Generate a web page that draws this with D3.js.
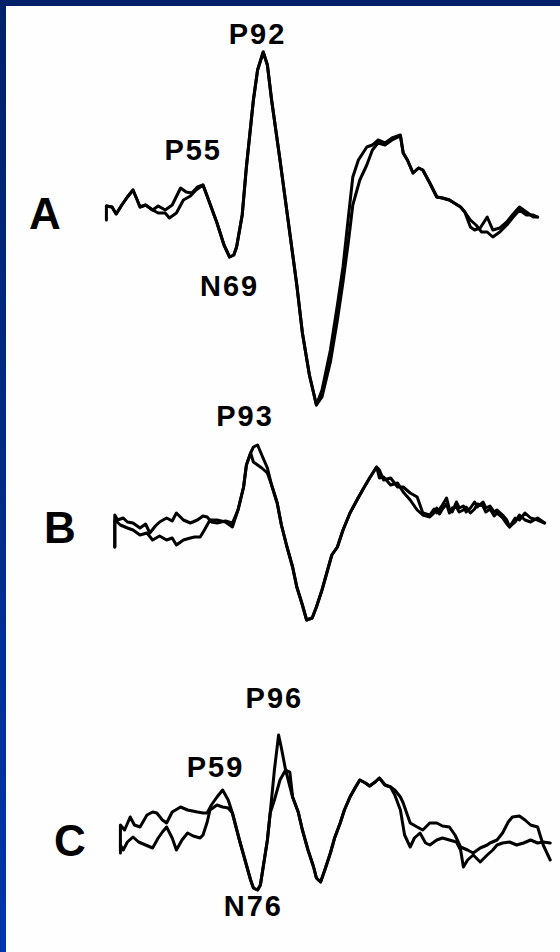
<!doctype html>
<html>
<head>
<meta charset="utf-8">
<title>Evoked potentials A, B, C</title>
<script src="https://d3js.org/d3.v7.min.js"></script>
<style>
  html, body { margin: 0; padding: 0; background: #fff; }
  svg { display: block; }
  text { font-family: "Liberation Sans", Arial, sans-serif; font-weight: bold; fill: #000; }
</style>
</head>
<body>
<svg id="chart" width="560" height="952"></svg>
<script>
// [ms, uV] pairs, two overlaid recordings per panel
const panels = ["A", "B", "C"];

const aOnset = [[-19,0],[-19,-0.8],[-19,0.6],[-15,0.5],[-12,-0.2],[-8,0.7],[-4,1.5],[0,2.2],[3,1.2],[5,0.5],[9,0.7],[14,0.2]];
const aEarly1 = [[18,0.6],[23,0.2],[28,0.7],[34,2.4],[38,2.0],[42,1.9],[46,2.5],[50,2.7]];
const aEarly2 = [[18,-0.1],[23,-0.1],[26,-0.6],[31,-0.1],[36,1.2],[41,1.6],[45,2.2],[50,2.7]];
const aMain = [[54,1.2],[60,-1.1],[65,-3.3],[69,-4.5],[72,-4.3],[74,-3.5],[78,-0.3],[81,4.5],[86,11.2],[89,14.2],[93,16.0],[96,14.7],[99,11.2],[105,5.2],[112,-2.1],[117,-7.3],[121,-12.1],[126,-16.3],[131,-19.3]];
const aRecov1 = [[135,-17.8],[141,-13.8],[146,-9.3],[150,-5.5],[154,-0.3],[157,3.5],[161,5.2],[167,6.5],[171,6.7],[175,7.2],[180,6.9],[185,7.4],[191,7.7],[193,5.9]];
const aRecov2 = [[135,-18.5],[141,-15.0],[146,-10.8],[150,-7.0],[154,-2.8],[157,0.7],[162,3.2],[167,4.7],[171,6.2],[175,6.9],[180,6.7],[185,7.2],[191,7.6],[193,5.9]];
const aLate = [[196,5.2],[200,3.9],[204,4.4],[207,4.2],[212,2.9],[217,1.5],[221,1.4],[226,1.2],[234,0.5],[237,0]];
const aTail1 = [[241,-1.5],[244,-1.8],[248,-1.6],[253,-0.5],[257,-1.8],[262,-1.6],[267,-1.0],[271,-0.3],[276,0.5],[281,0],[286,-0.5],[289,-0.5]];
const aTail2 = [[241,-0.8],[245,-1.3],[249,-2.0],[253,-2.0],[257,-2.5],[262,-2.0],[267,-1.3],[271,-0.6],[276,0.2],[281,-0.3],[286,-0.3],[289,-0.5]];

const bOnset1 = [[-13,-2.5],[-13,0.7],[-11,0.2],[-7,0.4],[-4,0],[0,-0.1],[5,-0.6],[9,-0.2],[12,-1.1],[16,-0.4],[19,0],[24,0.4],[28,0.1],[31,0.9],[36,0.2],[41,-0.1],[46,0.2],[50,0.6],[53,0.5],[56,0],[60,-0.1],[66,0.1],[71,-0.1]];
const bOnset2 = [[-13,-2.5],[-13,0.2],[-9,-0.3],[-4,-0.6],[0,-0.8],[5,-1.3],[10,-1.1],[14,-1.8],[19,-1.4],[24,-1.8],[28,-1.6],[31,-2.3],[36,-1.8],[41,-1.6],[44,-1.5],[48,-1.5],[51,-0.8],[55,0.2],[60,0.2],[66,0],[71,-0.5]];
const bRise = [[75,1.2],[79,3.5],[81,5.7],[84,6.9]];
const bPeak1 = [[86,7.5],[89,7.7],[92,6.7],[96,5.4]];
const bPeak2 = [[86,6.0],[89,5.7],[92,5.4],[96,4.9]];
const bMain = [[99,3.7],[103,1.9],[106,-0.3],[110,-2.5],[114,-4.5],[117,-6.5],[121,-8.3],[124,-9.8],[128,-9.6],[131,-8.5],[135,-6.8],[139,-4.8],[142,-3.3],[146,-2.5],[150,-0.8],[155,0.9],[160,2.2],[164,3.2],[169,4.4],[174,5.5]];
const bHump1 = [[176,5.2],[179,4.2],[184,4.4],[189,3.5],[193,3.5],[198,2.9],[203,2.5],[207,0.9]];
const bHump2 = [[176,4.4],[179,4.5],[184,3.7],[189,3.9],[193,3.0],[198,2.2],[203,1.2],[207,0.7]];
const bLate1 = [[212,0.7],[215,1.3],[217,0.9],[221,1.7],[224,2.4],[226,1.3],[228,1.0],[231,2.0],[233,1.4],[236,1.6],[238,1.0],[241,1.4],[244,2.0],[246,1.5],[250,2.0],[252,1.4],[255,1.6],[258,1.0],[260,1.2],[264,0.7],[267,0.2],[269,-0.5]];
const bLate2 = [[212,0.5],[215,0.9],[217,1.4],[219,0.8],[221,1.3],[224,1.8],[226,0.9],[228,1.4],[231,1.5],[233,1.0],[236,1.2],[238,1.5],[241,0.9],[244,1.3],[246,1.8],[250,1.6],[252,1.0],[255,1.3],[258,0.6],[260,0.9],[264,0.4],[267,-0.2],[269,-0.5]];
const bTail1 = [[273,0.4],[276,0.2],[280,0.9],[284,0.4],[289,0.2],[294,-0.1]];
const bTail2 = [[273,0],[276,0.7],[280,0.2],[284,0],[289,0.4],[294,-0.1]];

const cOnset1 = [[-9,-2.3],[-9,0.5],[-6,0],[-2,1.3],[1,0.5],[5,0.3],[10,1.5],[14,1.8],[17,1.7],[21,1.0],[24,0.7],[28,1.8],[34,2.3],[39,2.0],[46,1.8],[50,1.7],[53,1.7],[56,2.5],[60,3.3],[64,4.0],[68,3.0],[71,1.7]];
const cOnset2 = [[-9,-1.5],[-7,-2.0],[-4,-1.2],[0,-0.7],[4,-1.2],[9,-1.5],[14,-1.8],[18,-0.8],[21,-0.2],[24,0.3],[28,-0.8],[31,-2.0],[35,-1.0],[39,-0.3],[43,-0.6],[48,-0.8],[50,-0.5],[53,0.8],[55,2.0],[60,2.5],[64,2.3],[68,2.2],[71,1.7]];
const cDip = [[76,-1.0],[80,-3.0],[84,-5.0],[86,-5.8],[89,-6.0],[91,-5.5],[93,-3.7],[96,-1.0],[98,1.7]];
const cPeak1 = [[101,6.0],[104,9.5],[106,8.2],[109,6.0]];
const cPeak2 = [[101,3.0],[105,5.0],[109,6.0],[112,5.8]];
const cMain = [[114,3.3],[118,1.8],[121,0],[125,-2.0],[129,-3.7],[131,-4.8],[134,-5.2],[137,-4.0],[141,-2.3],[144,-0.8],[148,0.7],[151,2.0],[155,3.3],[159,4.3],[162,5.0],[166,4.7],[169,4.4],[173,4.8],[176,5.2],[180,4.5],[184,4.3]];
const cTail1 = [[187,4.0],[191,3.3],[193,2.7],[196,1.5],[198,0.7],[203,0.3],[207,0],[212,0.7],[217,0.7],[221,0.4],[226,0.3],[230,-0.5],[234,-1.7],[239,-2.0],[243,-2.3],[248,-1.8],[253,-1.5],[255,-1.3],[260,-1.0],[264,-0.3],[268,0.8],[271,1.3],[276,1.4],[280,1.0],[284,0.5],[289,0.3],[293,-1.5],[298,-3.0]];
const cTail2 = [[187,3.5],[191,2.0],[194,-0.5],[198,-1.7],[201,-0.8],[205,-0.3],[209,-1.3],[212,-1.5],[217,-1.0],[221,-0.8],[226,-1.0],[231,-1.2],[234,-2.0],[236,-3.7],[239,-3.0],[243,-2.5],[248,-3.2],[253,-2.5],[257,-2.0],[260,-1.5],[264,-1.3],[269,-1.2],[274,-1.5],[279,-1.3],[284,-1.0],[289,-1.3],[293,-1.2],[298,-1.3]];

// peak labels: name, panel, anchor [ms, uV]
const peakNames = ["P92", "P55", "N69", "P93", "P96", "P59", "N76"];
const peakPanels = ["A", "A", "A", "B", "C", "C", "C"];
const peakAnchors = [[89,17.8],[43,6.2],[69,-7.4],[80,10.6],[101,13.2],[59,6.3],[86,-7.6]];

// build the recordings table
const recordings = [
  { panel: "A", pts: [...aOnset, ...aEarly1, ...aMain, ...aRecov1, ...aLate, ...aTail1] },
  { panel: "A", pts: [...aOnset.slice(2), ...aEarly2, ...aMain, ...aRecov2, ...aLate, ...aTail2] },
  { panel: "B", pts: [...bOnset1, ...bRise, ...bPeak1, ...bMain, ...bHump1, ...bLate1, ...bTail1] },
  { panel: "B", pts: [...bOnset2, ...bRise, ...bPeak2, ...bMain, ...bHump2, ...bLate2, ...bTail2] },
  { panel: "C", pts: [...cOnset1, ...cDip, ...cPeak1, ...cMain, ...cTail1] },
  { panel: "C", pts: [...cOnset2, ...cDip, ...cPeak2, ...cMain, ...cTail2] }
];

const svg = d3.select("#chart");
const W = 560, H = 952;

// frame: navy strip on top and left
const defs = svg.append("defs");
const grad = defs.append("linearGradient").attr("id", "edge")
  .attr("x1", 0).attr("y1", 0).attr("x2", 0).attr("y2", 1);
grad.append("stop").attr("offset", "0%").attr("stop-color", "#00206a");
grad.append("stop").attr("offset", "100%").attr("stop-color", "#0036a8");

svg.append("rect").attr("width", W).attr("height", H).attr("fill", "#fdfefd");
svg.append("rect").attr("x", 0).attr("y", 0).attr("width", W).attr("height", 6).attr("fill", "#00206a");
svg.append("rect").attr("x", 0).attr("y", 0).attr("width", 6).attr("height", H).attr("fill", "url(#edge)");

const baseline = { A: 212, B: 522, C: 830 };
const letterPos = { A: [45, 213], B: [60, 527], C: [70, 840] };

const xScale = d3.scaleLinear().domain([-20, 300]).range([105, 553]);
const yScale = d3.scaleLinear().domain([-20, 20]).range([200, -200]);

const line = d3.line()
  .x(d => xScale(d[0]))
  .y(d => yScale(d[1]));

const g = svg.selectAll("g.panel")
  .data(panels)
  .enter()
  .append("g")
  .attr("class", "panel")
  .attr("transform", d => `translate(0, ${baseline[d]})`);

g.each(function(p) {
  d3.select(this).selectAll("path.trace")
    .data(recordings.filter(r => r.panel === p))
    .enter()
    .append("path")
    .attr("class", "trace")
    .attr("d", d => line(d.pts))
    .style("fill", "none")
    .style("stroke", "#000")
    .style("stroke-width", "3px")
    .style("stroke-linejoin", "round")
    .style("stroke-linecap", "round");

  d3.select(this).selectAll("text.peak")
    .data(peakNames.map((n, i) => ({ name: n, panel: peakPanels[i], at: peakAnchors[i] })).filter(d => d.panel === p))
    .enter()
    .append("text")
    .attr("class", "peak")
    .attr("x", d => xScale(d.at[0]))
    .attr("y", d => yScale(d.at[1]) + 0.36 * 29)
    .attr("text-anchor", "middle")
    .style("font-size", "29px")
    .style("letter-spacing", "2px")
    .text(d => d.name);
});

svg.selectAll("text.letter")
  .data(panels)
  .enter()
  .append("text")
  .attr("class", "letter")
  .attr("x", d => letterPos[d][0])
  .attr("y", d => letterPos[d][1] + 0.36 * 44)
  .attr("text-anchor", "middle")
  .style("font-size", "44px")
  .text(d => d);
</script>
</body>
</html>
